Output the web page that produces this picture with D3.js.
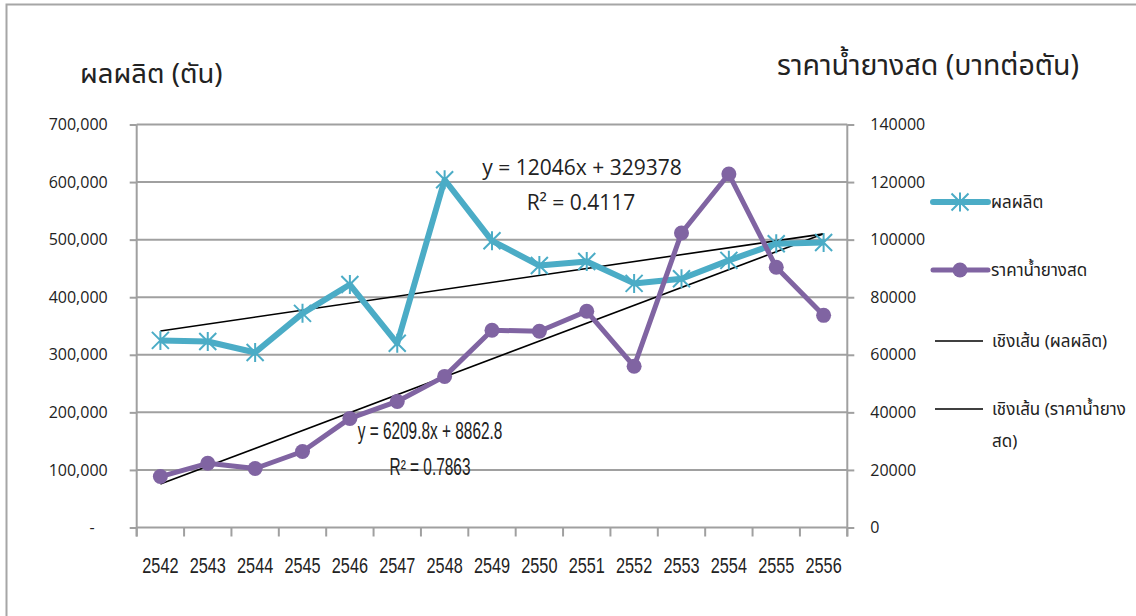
<!DOCTYPE html>
<html>
<head>
<meta charset="utf-8">
<script src="https://cdn.jsdelivr.net/npm/d3@7"></script>
<style>
  html, body { margin: 0; padding: 0; background: #fff; }
  svg { display: block; }
  .num { font-family: "Open Sans", "Noto Sans", sans-serif; fill: #222; }
  .thai { font-family: "Noto Sans Thai", "Leelawadee UI", "Tahoma", "DejaVu Sans", sans-serif; fill: #222; }
  .narrow { font-family: "Liberation Sans Narrow", "Liberation Sans", sans-serif; fill: #222; }
</style>
</head>
<body>
<svg id="chart" width="1136" height="616"></svg>
<script>
// ---- data ----
const years = ["2542","2543","2544","2545","2546","2547","2548","2549","2550","2551","2552","2553","2554","2555","2556"];
const production = [325000, 323000, 304000, 372000, 422000, 320000, 604000, 498000, 455000, 462000, 424000, 432000, 464000, 493000, 495000];
const price = [17700, 22300, 20500, 26400, 37900, 43800, 52500, 68500, 68200, 75100, 56000, 102300, 122800, 90400, 73700];
const prodTrend = [12046, 329378];   // slope, intercept (x = 1..n)
const priceTrend = [6209.8, 8862.8];
const leftTicks = [0, 100000, 200000, 300000, 400000, 500000, 600000, 700000];
const rightTicks = [0, 20000, 40000, 60000, 80000, 100000, 120000, 140000];
const seriesNames = ["ผลผลิต", "ราคาน้ำยางสด", "เชิงเส้น (ผลผลิต)", "เชิงเส้น (ราคาน้ำยาง", "สด)"];
const titles = ["ผลผลิต (ตัน)", "ราคาน้ำยางสด (บาทต่อตัน)"];
const eqLabels = ["y = 12046x + 329378", "R² = 0.4117", "y = 6209.8x + 8862.8", "R² = 0.7863"];

// ---- layout ----
const svg = d3.select("#chart");
const plot = { left: 136.7, right: 847.3, top: 124.5, bottom: 527.5 };
const cyan = "#4BACC6", purple = "#8064A2", grid = "#A0A0A0";

const x = d3.scaleBand().domain(years).range([plot.left, plot.right]);
const xc = d => x(d) + x.bandwidth() / 2;
const yL = d3.scaleLinear().domain([0, 700000]).range([plot.bottom, plot.top]);
const yR = d3.scaleLinear().domain([0, 140000]).range([plot.bottom, plot.top]);

// chart border (top + left)
svg.append("path").attr("d", "M6.5,616 L6.5,4.5 L1136,4.5")
  .attr("fill", "none").attr("stroke", "#A6A6A6").attr("stroke-width", 2);

// gridlines
svg.append("g").selectAll("line").data(leftTicks.slice(1)).join("line")
  .attr("x1", plot.left).attr("x2", plot.right)
  .attr("y1", d => yL(d)).attr("y2", d => yL(d))
  .attr("stroke", grid).attr("stroke-width", 2);

// left axis
const gL = svg.append("g").attr("transform", `translate(${plot.left},0)`)
  .call(d3.axisLeft(yL).tickValues(leftTicks).tickSize(7).tickPadding(22)
    .tickFormat(d => d === 0 ? "-" : d3.format(",")(d)));
// right axis
const gR = svg.append("g").attr("transform", `translate(${plot.right},0)`)
  .call(d3.axisRight(yR).tickValues(rightTicks).tickSize(7).tickPadding(16)
    .tickFormat(d3.format("d")));
[gL, gR].forEach(g => {
  g.select(".domain").remove();
  g.selectAll(".tick line").attr("stroke", grid).attr("stroke-width", 2);
  g.selectAll(".tick text").attr("class", "num").style("font-size", "16px")
    .style("font-family", '"Open Sans", "Noto Sans", sans-serif').attr("fill", "#222");
});
gL.selectAll(".tick").filter(d => d === 0).select("text").attr("dx", "-13");
// vertical axis lines
[plot.left, plot.right].forEach(px => {
  svg.append("line").attr("x1", px).attr("x2", px).attr("y1", plot.top).attr("y2", plot.bottom + 9)
    .attr("stroke", grid).attr("stroke-width", 2);
});

// bottom axis: baseline + ticks at band boundaries
svg.append("line").attr("x1", plot.left).attr("x2", plot.right)
  .attr("y1", plot.bottom).attr("y2", plot.bottom).attr("stroke", grid).attr("stroke-width", 2);
const bounds = years.map(d => x(d)).concat([plot.right]);
svg.append("g").selectAll("line").data(bounds).join("line")
  .attr("x1", d => d).attr("x2", d => d)
  .attr("y1", plot.bottom).attr("y2", plot.bottom + 9)
  .attr("stroke", grid).attr("stroke-width", 2);
svg.append("g").selectAll("text").data(years).join("text")
  .attr("class", "narrow")
  .attr("transform", d => `translate(${xc(d)},573) scale(0.74,1)`)
  .attr("text-anchor", "middle").style("font-size", "22px").text(d => d);

// trend lines
const n = years.length;
[[prodTrend, yL], [priceTrend, yR]].forEach(([t, ys]) => {
  svg.append("line")
    .attr("x1", xc(years[0])).attr("y1", ys(t[0] * 1 + t[1]))
    .attr("x2", xc(years[n - 1])).attr("y2", ys(t[0] * n + t[1]))
    .attr("stroke", "#000").attr("stroke-width", 1.6);
});

// production series
const lineL = d3.line().x((d, i) => xc(years[i])).y(d => yL(d));
svg.append("path").datum(production).attr("d", lineL)
  .attr("fill", "none").attr("stroke", cyan).attr("stroke-width", 6).attr("stroke-linejoin", "round");
function star(g, cx, cy) {
  const s = 8.5;
  g.append("path")
    .attr("d", `M${cx - s},${cy - s}L${cx + s},${cy + s}M${cx - s},${cy + s}L${cx + s},${cy - s}M${cx},${cy - s - 1}L${cx},${cy + s + 1}`)
    .attr("stroke", cyan).attr("stroke-width", 2).attr("fill", "none");
}
const gStars = svg.append("g");
production.forEach((v, i) => star(gStars, xc(years[i]), yL(v)));

// price series
const lineR = d3.line().x((d, i) => xc(years[i])).y(d => yR(d));
svg.append("path").datum(price).attr("d", lineR)
  .attr("fill", "none").attr("stroke", purple).attr("stroke-width", 5).attr("stroke-linejoin", "round");
svg.append("g").selectAll("circle").data(price).join("circle")
  .attr("cx", (d, i) => xc(years[i])).attr("cy", d => yR(d)).attr("r", 7.5).attr("fill", purple);

// equation labels
svg.append("text").attr("class", "num").attr("x", 582).attr("y", 175).attr("text-anchor", "middle")
  .style("font-size", "21px").text(eqLabels[0]);
svg.append("text").attr("class", "num").attr("x", 581).attr("y", 210).attr("text-anchor", "middle")
  .style("font-size", "21px").text(eqLabels[1]);
svg.append("text").attr("class", "narrow").attr("transform", "translate(430,439) scale(0.67,1)")
  .attr("text-anchor", "middle").style("font-size", "23px").text(eqLabels[2]);
svg.append("text").attr("class", "narrow").attr("transform", "translate(430,475) scale(0.67,1)")
  .attr("text-anchor", "middle").style("font-size", "23px").text(eqLabels[3]);

// titles
svg.append("text").attr("class", "thai").attr("x", 80).attr("y", 83).style("font-size", "27.5px").text(titles[0]);
svg.append("text").attr("class", "thai").attr("x", 777).attr("y", 75).style("font-size", "28.5px").text(titles[1]);

// legend
const lg = svg.append("g");
lg.append("line").attr("x1", 933).attr("x2", 988).attr("y1", 202).attr("y2", 202)
  .attr("stroke", cyan).attr("stroke-width", 6).attr("stroke-linecap", "round");
star(lg, 960, 202);
lg.append("line").attr("x1", 933).attr("x2", 988).attr("y1", 270).attr("y2", 270)
  .attr("stroke", purple).attr("stroke-width", 5).attr("stroke-linecap", "round");
lg.append("circle").attr("cx", 960).attr("cy", 270).attr("r", 7.5).attr("fill", purple);
lg.append("line").attr("x1", 935).attr("x2", 983).attr("y1", 341).attr("y2", 341)
  .attr("stroke", "#000").attr("stroke-width", 1.6);
lg.append("line").attr("x1", 935).attr("x2", 983).attr("y1", 409).attr("y2", 409)
  .attr("stroke", "#000").attr("stroke-width", 1.6);
const legText = [[991, 208, seriesNames[0]], [991, 276, seriesNames[1]], [992, 347, seriesNames[2]], [992, 415, seriesNames[3]], [992, 447, seriesNames[4]]];
lg.selectAll("text").data(legText).join("text").attr("class", "thai")
  .attr("x", d => d[0]).attr("y", d => d[1]).style("font-size", "17px").text(d => d[2]);
</script>
</body>
</html>
